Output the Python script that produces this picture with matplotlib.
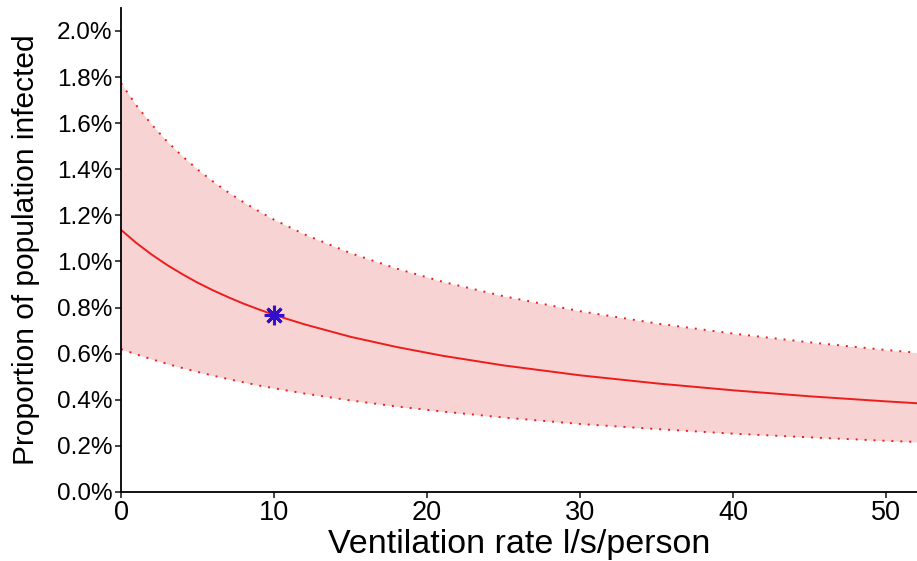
import numpy as np
import matplotlib.pyplot as plt
from matplotlib.ticker import FuncFormatter

plt.rcParams['font.family'] = ['Liberation Sans', 'DejaVu Sans']

# Ventilation rate (l/s/person)
vent = [0, 1, 2, 3, 4, 5, 6, 7, 8, 9, 10, 12, 15, 18, 21, 25, 30, 35, 40, 45, 50, 52]
# Proportion infected (%) - central estimate and bounds
infected_mid = [1.137, 1.080, 1.030, 0.985, 0.945, 0.908, 0.875, 0.845, 0.817, 0.792,
                0.768, 0.727, 0.673, 0.629, 0.591, 0.549, 0.506, 0.471, 0.441,
                0.415, 0.393, 0.385]
infected_hi = [1.773, 1.677, 1.594, 1.521, 1.457, 1.399, 1.347, 1.300, 1.257, 1.218,
               1.181, 1.117, 1.036, 0.969, 0.912, 0.849, 0.784, 0.731, 0.687,
               0.649, 0.616, 0.604]
infected_lo = [0.620, 0.597, 0.576, 0.556, 0.538, 0.521, 0.505, 0.490, 0.476, 0.462,
               0.450, 0.427, 0.397, 0.371, 0.349, 0.323, 0.295, 0.273, 0.253,
               0.237, 0.222, 0.217]

# reference point
ref_vent = [10]
ref_infected = [0.768]

fig = plt.figure(figsize=(9.17, 5.61), dpi=100)
ax = fig.add_axes([0.132, 0.123, 0.868, 0.863])

ax.fill_between(vent, infected_lo, infected_hi, color='#f8d3d3', linewidth=0)
ax.plot(vent, infected_hi, color='#ee1c1c', linestyle=(0, (1, 3.6)), linewidth=1.4)
ax.plot(vent, infected_lo, color='#ee1c1c', linestyle=(0, (1, 3.6)), linewidth=1.4)
ax.plot(vent, infected_mid, color='#ee1c1c', linewidth=1.4)
ax.plot(ref_vent, ref_infected, linestyle='none', marker=(8, 2, 0),
        markersize=14, markeredgewidth=2.2, color='#3311cc')

ax.set_xlim(0, 52)
ax.set_ylim(0, 2.1)
ax.set_xticks([0, 10, 20, 30, 40, 50])
ax.set_yticks(np.arange(0, 2.01, 0.2))
ax.yaxis.set_major_formatter(FuncFormatter(lambda v, p: f'{v:.1f}%'))

ax.spines['top'].set_visible(False)
ax.spines['right'].set_visible(False)
ax.spines['left'].set_linewidth(1.3)
ax.spines['bottom'].set_linewidth(1.3)
ax.tick_params(axis='both', direction='out', length=4, width=1.2, color='#222222')
ax.tick_params(axis='x', labelsize=19.5, pad=2)
ax.tick_params(axis='y', labelsize=17.5, pad=2)

ax.set_xlabel('Ventilation rate l/s/person', fontsize=24.5, labelpad=2)
ax.set_ylabel('Proportion of population infected', fontsize=21.5, labelpad=12)

fig.savefig('out.png', dpi=100)
